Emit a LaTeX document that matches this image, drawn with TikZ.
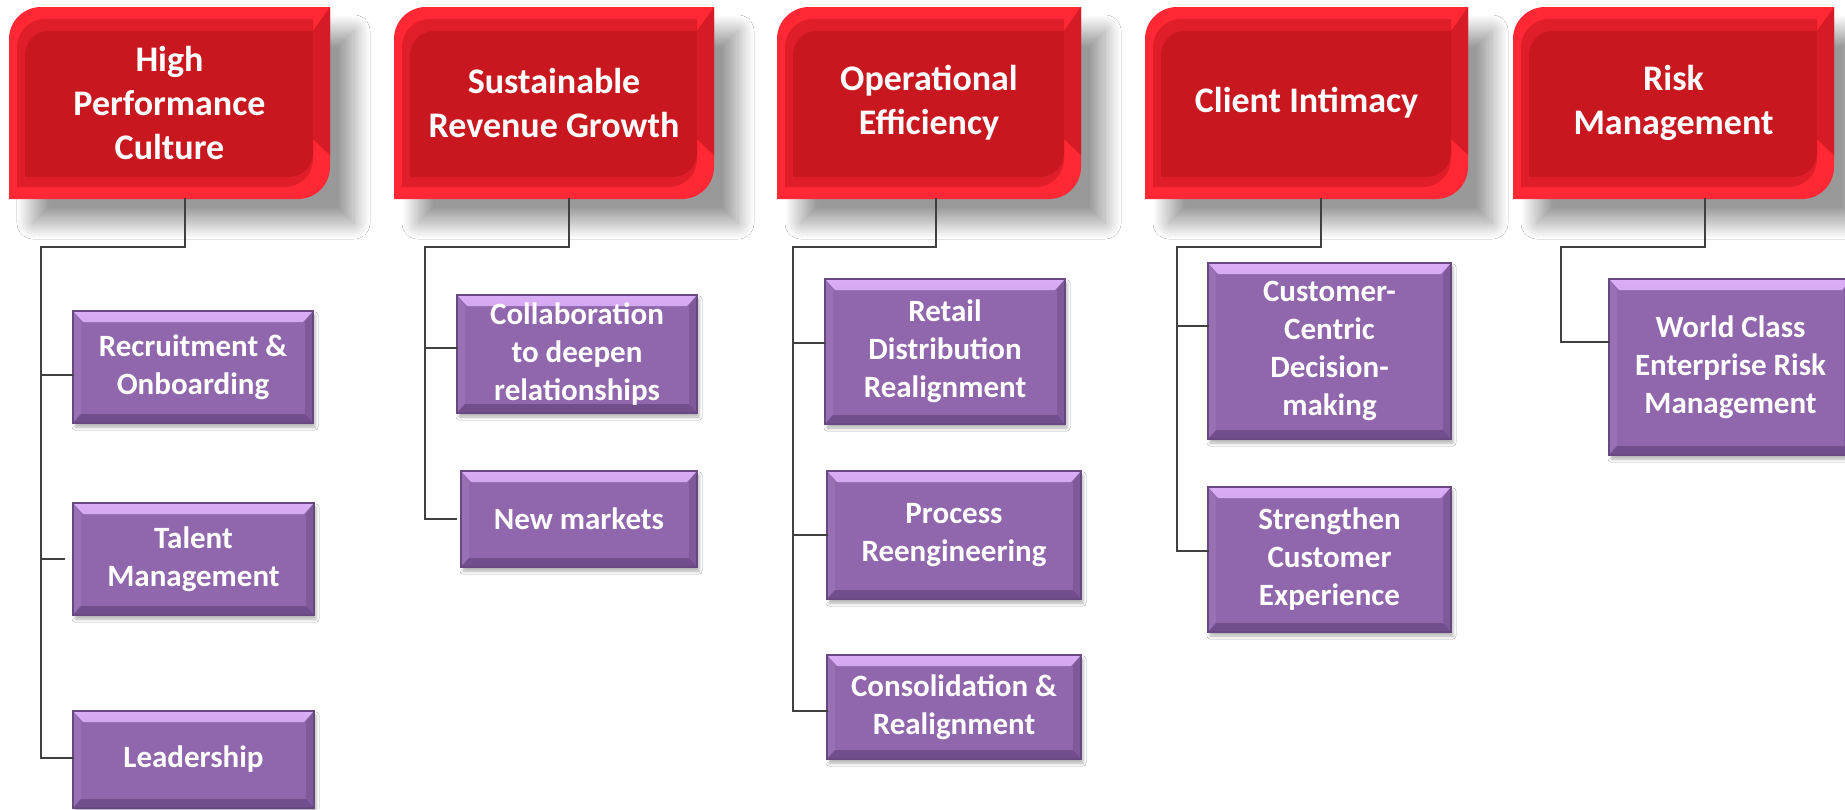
\documentclass[tikz,border=0pt]{standalone}
\usepackage{fontspec}
\setmainfont{Carlito}
\usetikzlibrary{shadows.blur}

\definecolor{goalface}{HTML}{C8171F}
\definecolor{goalmid}{HTML}{E01E29}
\definecolor{goalbright}{HTML}{FF2834}
\definecolor{goalside}{HTML}{D51B25}
\definecolor{taskface}{HTML}{9066AD}
\definecolor{tasktop}{HTML}{D9AEF7}
\definecolor{taskleft}{HTML}{9870B4}
\definecolor{taskright}{HTML}{80599B}
\definecolor{taskbottom}{HTML}{724E8C}
\definecolor{taskline}{HTML}{694882}
\definecolor{linkgray}{HTML}{404040}

\newcommand\pp{path picture bounding box}
% pane with rounded top-left and bottom-right corners, inset l/t/r/b
\newcommand\goalpane[6]{%
  \fill[#1] ([xshift=#2,yshift=#5]\pp.south west)
    -- ([xshift=#2,yshift=-#3-#6]\pp.north west)
    arc[start angle=180,end angle=90,radius=#6]
    -- ([xshift=-#4,yshift=-#3]\pp.north east)
    -- ([xshift=-#4,yshift=#5+#6]\pp.south east)
    arc[start angle=0,end angle=-90,radius=#6]
    -- cycle;}

\tikzset{
  goal/.style={anchor=north west, inner sep=0pt, outer sep=0pt,
    minimum height=96pt, text=white, align=center,
    font=\fontsize{18}{22}\selectfont\bfseries,
    blur shadow={shadow xshift=12pt, shadow yshift=-12pt,
      shadow blur radius=8pt, shadow blur steps=30, shadow opacity=40},
    path picture={
      \goalpane{goalbright}{0pt}{0pt}{0pt}{0pt}{16pt}
      \fill[goalside] (\pp.north east) -- ([xshift=-8.5pt,yshift=-12pt]\pp.north east)
        -- ([xshift=-8.5pt,yshift=30pt]\pp.south east) -- ([yshift=22pt]\pp.south east) -- cycle;
      \goalpane{goalmid}{4pt}{6pt}{8.5pt}{6pt}{14pt}
      \goalpane{goalface}{8pt}{12pt}{8.5pt}{11pt}{12pt}
    }},
  task/.style={anchor=north west, inner sep=0pt, outer sep=0pt,
    fill=taskface, draw=taskline, line width=0.6pt, text=white, align=center,
    font=\fontsize{15.5}{19}\selectfont\bfseries,
    blur shadow={shadow xshift=1pt, shadow yshift=-2pt,
      shadow blur radius=1.5pt, shadow opacity=30},
    path picture={
      \shade[top color=tasktop, bottom color=taskface!85!tasktop]
        (\pp.north west) -- (\pp.north east) -- ([xshift=-5pt,yshift=-5.5pt]\pp.north east)
        -- ([xshift=5pt,yshift=-5.5pt]\pp.north west) -- cycle;
      \fill[taskleft] (\pp.north west) -- ([xshift=4pt,yshift=-5.5pt]\pp.north west)
        -- ([xshift=4pt,yshift=4.5pt]\pp.south west) -- (\pp.south west) -- cycle;
      \fill[taskright] (\pp.north east) -- ([xshift=-4pt,yshift=-5.5pt]\pp.north east)
        -- ([xshift=-4pt,yshift=4.5pt]\pp.south east) -- (\pp.south east) -- cycle;
      \fill[taskbottom] (\pp.south west) -- (\pp.south east)
        -- ([xshift=-4pt,yshift=4.5pt]\pp.south east) -- ([xshift=4pt,yshift=4.5pt]\pp.south west) -- cycle;
    }},
  link/.style={draw=linkgray, line width=1pt, line cap=rect}
}

\begin{document}
\begin{tikzpicture}[x=0.5pt, y=-0.5pt]
  \path[use as bounding box, fill=white] (0,0) rectangle (1845,809);

  % goals
  \node[goal, minimum width=160.5pt] (g1) at (9,7) {High\\Performance\\Culture};
  \node[goal, minimum width=160pt] (g2) at (394,7) {Sustainable\\Revenue Growth};
  \node[goal, minimum width=152pt] (g3) at (777,7) {Operational\\Efficiency};
  \node[goal, minimum width=161.5pt] (g4) at (1145,7) {Client Intimacy};
  \node[goal, minimum width=160.5pt] (g5) at (1513,7) {Risk\\Management};

  % initiatives
  \node[task, minimum width=120pt, minimum height=56pt] (rec) at (73,311) {Recruitment \&\\Onboarding};
  \node[task, minimum width=120.5pt, minimum height=56pt] (tal) at (73,503) {Talent\\Management};
  \node[task, minimum width=120.5pt, minimum height=48.5pt] (lead) at (73,711) {Leadership};

  \node[task, minimum width=120pt, minimum height=59pt] (col) at (457,295) {Collaboration\\to deepen\\relationships};
  \node[task, minimum width=118pt, minimum height=48pt] (newm) at (461,471) {New markets};

  \node[task, minimum width=120pt, minimum height=72.5pt] (ret) at (825,279) {Retail\\Distribution\\Realignment};
  \node[task, minimum width=127pt, minimum height=64pt] (proc) at (827,471) {Process\\Reengineering};
  \node[task, minimum width=127pt, minimum height=52pt] (cons) at (827,655) {Consolidation \&\\Realignment};

  \node[task, minimum width=121.5pt, minimum height=88pt] (ccd) at (1208,263) {Customer-\\Centric\\Decision-\\making};
  \node[task, minimum width=121.5pt, minimum height=72.5pt] (scx) at (1208,487) {Strengthen\\Customer\\Experience};

  \node[task, minimum width=121.5pt, minimum height=88pt] (erm) at (1609,279) {World Class\\Enterprise Risk\\Management};

  % elbow connectors
  \coordinate (b1) at (41,247);
  \coordinate (b2) at (425,247);
  \coordinate (b3) at (793,247);
  \coordinate (b4) at (1177,247);
  \coordinate (b5) at (1561,247);

  \draw[link] ([xshift=7.75pt]g1.south) |- (b1);
  \foreach \c/\s/\g in {rec/-4pt/0pt, tal/0pt/4.5pt, lead/0.75pt/0pt}
    \draw[link, shorten >=\g] (b1) |- ([yshift=\s]\c.west);

  \draw[link] ([xshift=7.5pt]g2.south) |- (b2);
  \foreach \c/\s/\g in {col/3pt/0pt, newm/0pt/2.5pt}
    \draw[link, shorten >=\g] (b2) |- ([yshift=\s]\c.west);

  \draw[link] ([xshift=3.5pt]g3.south) |- (b3);
  \foreach \c/\s in {ret/4.4pt, proc/0pt, cons/-1.8pt}
    \draw[link] (b3) |- ([yshift=\s]\c.west);

  \draw[link] ([xshift=7.25pt]g4.south) |- (b4);
  \foreach \c/\s in {ccd/12.5pt, scx/4.25pt}
    \draw[link] (b4) |- ([yshift=\s]\c.west);

  \draw[link] ([xshift=15.75pt]g5.south) |- (b5) |- ([yshift=12.5pt]erm.west);
\end{tikzpicture}
\end{document}
